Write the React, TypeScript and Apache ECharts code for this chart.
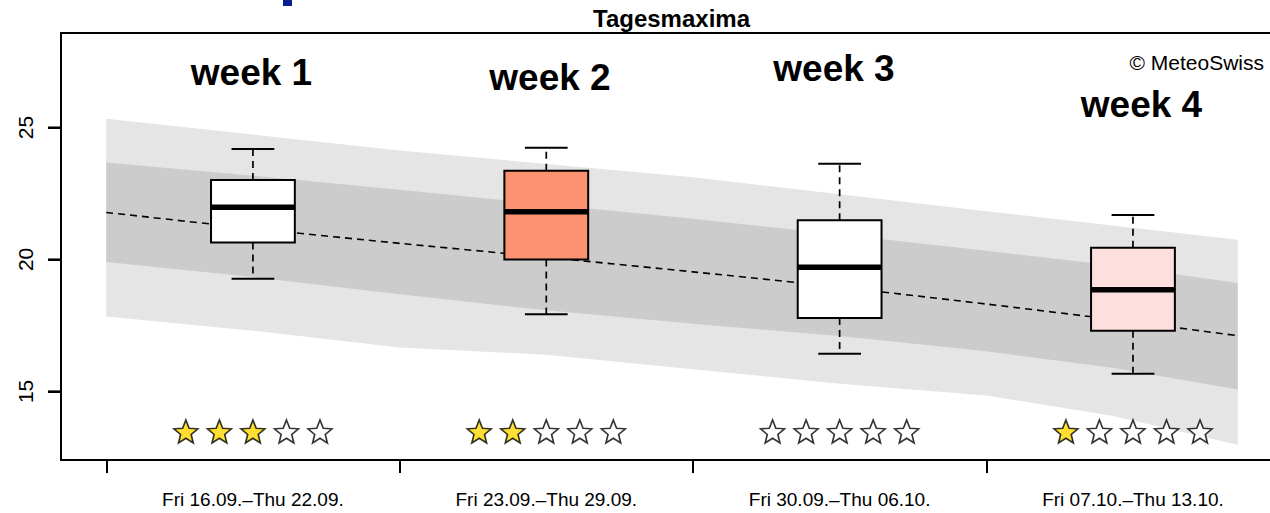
import { useEffect, useRef } from "react";
import * as echarts from "echarts";

// Forecast weeks (x positions are day offsets from Fri 16.09.)
const WEEK_LABELS = ["week 1", "week 2", "week 3", "week 4"];
const WEEK_RANGES = [
  "Fri 16.09.–Thu 22.09.",
  "Fri 23.09.–Thu 29.09.",
  "Fri 30.09.–Thu 06.10.",
  "Fri 07.10.–Thu 13.10.",
];
const WEEK_CENTERS = [3.5, 10.5, 17.5, 24.5];
const WEEK_BOUNDS = [0, 7, 14, 21, 28];

// Weekly ensemble distribution of daily maxima (°C)
const WHISKER_LOW = [19.27, 17.92, 16.43, 15.67];
const Q1 = [20.64, 20.0, 17.78, 17.3];
const MEDIAN = [21.98, 21.81, 19.7, 18.85];
const Q3 = [23.01, 23.36, 21.48, 20.44];
const WHISKER_HIGH = [24.18, 24.23, 23.63, 21.68];

// Forecast skill, stars out of five
const STARS_FILLED = [3, 2, 0, 1];
const STARS_TOTAL = 5;

// Daily climatology (°C)
const CLIM_DAYS = [0, 3.5, 7, 10.5, 14, 17.5, 21, 24, 27];
const CLIM_MEDIAN = [21.78, 21.17, 20.61, 20.08, 19.53, 18.95, 18.31, 17.73, 17.11];
const CLIM_OUTER_HIGH = [25.33, 24.73, 24.13, 23.62, 23.11, 22.47, 21.83, 21.29, 20.75];
const CLIM_INNER_HIGH = [23.67, 23.17, 22.64, 22.09, 21.54, 20.94, 20.33, 19.78, 19.11];
const CLIM_INNER_LOW = [19.9, 19.33, 18.68, 18.07, 17.56, 17.1, 16.52, 15.9, 15.07];
const CLIM_OUTER_LOW = [17.84, 17.3, 16.66, 16.39, 15.84, 15.29, 14.84, 14.08, 12.98];

const Y_TICKS = [15, 20, 25];

// Axis ranges
const X_MIN = -1.08;
const X_MAX = 28.08;
const Y_MIN = 12.4;
const Y_MAX = 28.58;

// Layout / style constants
const FONT = "'Liberation Sans', Arial, Helvetica, sans-serif";
const BOX_FILLS = ["#ffffff", "#fc9272", "#ffffff", "#fde0dd"];
const BAND_FILLS = ["#e5e5e5", "#cccccc"];
const STAR_LEVEL = 13.48;
const STAR_SPACING = 0.8;
const BOX_HALF_DAYS = 1.0;
const CAP_HALF_DAYS = 0.51;
const TICK_LEN = 13;
const STAR_PATH =
  "path://M50 0 L62.93 32.2 L97.55 34.55 L70.92 56.8 L79.39 90.45 L50 72 L20.61 90.45 L29.08 56.8 L2.45 34.55 L37.07 32.2 Z";

function starPoints(filled: boolean): number[][] {
  const pts: number[][] = [];
  WEEK_CENTERS.forEach((c, i) => {
    for (let k = 0; k < STARS_TOTAL; k++) {
      const isFilled = k < STARS_FILLED[i];
      if (isFilled === filled) {
        pts.push([c + (k - (STARS_TOTAL - 1) / 2) * STAR_SPACING, STAR_LEVEL]);
      }
    }
  });
  return pts;
}

function buildOption(): echarts.EChartsCoreOption {
  const bands = [
    { hi: CLIM_OUTER_HIGH, lo: CLIM_OUTER_LOW },
    { hi: CLIM_INNER_HIGH, lo: CLIM_INNER_LOW },
  ];

  const boxData = WEEK_CENTERS.map((c, i) => [
    c,
    WHISKER_LOW[i],
    Q1[i],
    MEDIAN[i],
    Q3[i],
    WHISKER_HIGH[i],
  ]);

  const weekLabelPos = [
    [251.5, 72.5],
    [550, 77.5],
    [834, 68.5],
    [1141.5, 104],
  ];

  return {
    animation: false,
    backgroundColor: "#ffffff",
    grid: {
      left: 61,
      top: 33,
      width: 1222,
      height: 427,
      show: true,
      borderColor: "#000",
      borderWidth: 2,
      backgroundColor: "transparent",
    },
    xAxis: {
      type: "value",
      min: X_MIN,
      max: X_MAX,
      axisLine: { show: true, onZero: false, lineStyle: { color: "#000", width: 2 } },
      splitLine: { show: false },
      axisTick: {
        show: true,
        customValues: WEEK_BOUNDS,
        length: TICK_LEN,
        lineStyle: { color: "#000", width: 2 },
      },
      axisLabel: {
        show: true,
        customValues: WEEK_CENTERS,
        formatter: (v: number) => {
          const idx = WEEK_CENTERS.findIndex((c) => Math.abs(c - v) < 1e-6);
          return idx >= 0 ? WEEK_RANGES[idx] : "";
        },
        color: "#000",
        fontFamily: FONT,
        fontSize: 19,
        margin: 30,
      },
    },
    yAxis: {
      type: "value",
      min: Y_MIN,
      max: Y_MAX,
      axisLine: { show: true, onZero: false, lineStyle: { color: "#000", width: 2 } },
      splitLine: { show: false },
      axisTick: {
        show: true,
        customValues: Y_TICKS,
        length: TICK_LEN,
        lineStyle: { color: "#000", width: 2 },
      },
      axisLabel: {
        show: true,
        customValues: Y_TICKS,
        rotate: 90,
        color: "#000",
        fontFamily: FONT,
        fontSize: 21,
        margin: 25,
      },
    },
    series: [
      {
        type: "custom",
        name: "climate bands",
        z: 1,
        silent: true,
        data: bands.map((_, i) => [i]),
        renderItem: (params: any, api: any) => {
          const b = bands[params.dataIndex];
          const pts: number[][] = [];
          CLIM_DAYS.forEach((d, k) => pts.push(api.coord([d, b.hi[k]])));
          for (let k = CLIM_DAYS.length - 1; k >= 0; k--) {
            pts.push(api.coord([CLIM_DAYS[k], b.lo[k]]));
          }
          return {
            type: "polygon",
            shape: { points: pts },
            style: { fill: BAND_FILLS[params.dataIndex] },
          };
        },
      },
      {
        type: "line",
        name: "climate median",
        z: 3,
        silent: true,
        showSymbol: false,
        smooth: 0.2,
        data: CLIM_DAYS.map((d, k) => [d, CLIM_MEDIAN[k]]),
        lineStyle: { color: "#000", width: 1.6, type: [7, 5] },
      },
      {
        type: "custom",
        name: "weekly forecast",
        z: 5,
        silent: true,
        data: boxData,
        encode: { x: 0, y: [1, 2, 3, 4, 5] },
        renderItem: (params: any, api: any) => {
          const c = api.value(0);
          const dayPx = api.size([1, 0])[0];
          const lo = api.coord([c, api.value(1)]);
          const q1 = api.coord([c, api.value(2)]);
          const med = api.coord([c, api.value(3)]);
          const q3 = api.coord([c, api.value(4)]);
          const hi = api.coord([c, api.value(5)]);
          const x = lo[0];
          const bh = BOX_HALF_DAYS * dayPx;
          const ch = CAP_HALF_DAYS * dayPx;
          const dashed = { stroke: "#000", lineWidth: 1.7, lineDash: [7, 5] };
          const solid = { stroke: "#000", lineWidth: 2 };
          return {
            type: "group",
            children: [
              { type: "line", shape: { x1: x, y1: q3[1], x2: x, y2: hi[1] }, style: dashed },
              { type: "line", shape: { x1: x, y1: q1[1], x2: x, y2: lo[1] }, style: dashed },
              { type: "line", shape: { x1: x - ch, y1: hi[1], x2: x + ch, y2: hi[1] }, style: solid },
              { type: "line", shape: { x1: x - ch, y1: lo[1], x2: x + ch, y2: lo[1] }, style: solid },
              {
                type: "rect",
                shape: { x: x - bh, y: q3[1], width: 2 * bh, height: q1[1] - q3[1] },
                style: { fill: BOX_FILLS[params.dataIndex], stroke: "#000", lineWidth: 2 },
              },
              {
                type: "line",
                shape: { x1: x - bh, y1: med[1], x2: x + bh, y2: med[1] },
                style: { stroke: "#000", lineWidth: 5.5 },
              },
            ],
          };
        },
      },
      {
        type: "scatter",
        name: "skill filled",
        z: 6,
        silent: true,
        symbol: STAR_PATH,
        symbolSize: [24, 23],
        data: starPoints(true),
        itemStyle: { color: "#ffd700", borderColor: "#000", borderWidth: 1.6 },
      },
      {
        type: "scatter",
        name: "skill empty",
        z: 6,
        silent: true,
        symbol: STAR_PATH,
        symbolSize: [24, 23],
        data: starPoints(false),
        itemStyle: { color: "#ffffff", borderColor: "#000", borderWidth: 1.6 },
      },
    ],
    graphic: [
      {
        id: "fragment",
        type: "rect",
        left: 283,
        top: 0,
        shape: { width: 9, height: 6 },
        style: { fill: "#0b1f95" },
        silent: true,
      },
      {
        id: "title",
        type: "text",
        x: 671.5,
        y: 18.4,
        style: {
          text: "Tagesmaxima",
          fill: "#000",
          font: `bold 24px ${FONT}`,
          align: "center",
          verticalAlign: "middle",
        },
        z: 10,
      },
      {
        id: "credit",
        type: "text",
        x: 1264,
        y: 62.7,
        style: {
          text: "© MeteoSwiss",
          fill: "#000",
          font: `21px ${FONT}`,
          align: "right",
          verticalAlign: "middle",
        },
        z: 10,
      },
      ...WEEK_LABELS.map((t, i) => ({
        id: `week-${i}`,
        type: "text",
        x: weekLabelPos[i][0],
        y: weekLabelPos[i][1],
        style: {
          text: t,
          fill: "#000",
          font: `bold 37px ${FONT}`,
          align: "center",
          verticalAlign: "middle",
        },
        z: 10,
      })),
    ],
  };
}

export default function App() {
  const ref = useRef<HTMLDivElement>(null);

  useEffect(() => {
    if (!ref.current) return;
    const chart = echarts.init(ref.current, undefined, { renderer: "svg" });
    chart.setOption(buildOption());

    // outward y-axis tick marks at the left frame, positioned via the grid mapping
    const tickMarks = Y_TICKS.map((v, i) => {
      const p = chart.convertToPixel({ gridIndex: 0 }, [X_MIN, v]) as number[];
      return {
        id: `ytick-${i}`,
        type: "line",
        z: 20,
        silent: true,
        shape: { x1: p[0] - TICK_LEN, y1: p[1], x2: p[0], y2: p[1] },
        style: { stroke: "#000", lineWidth: 2 },
      };
    });
    chart.setOption({ graphic: tickMarks });

    return () => chart.dispose();
  }, []);

  return (
    <div
      style={{
        position: "fixed",
        left: 0,
        top: 0,
        width: 1270,
        height: 513,
        overflow: "hidden",
        background: "#fff",
      }}
    >
      <div ref={ref} style={{ width: 1300, height: 513 }} />
    </div>
  );
}
